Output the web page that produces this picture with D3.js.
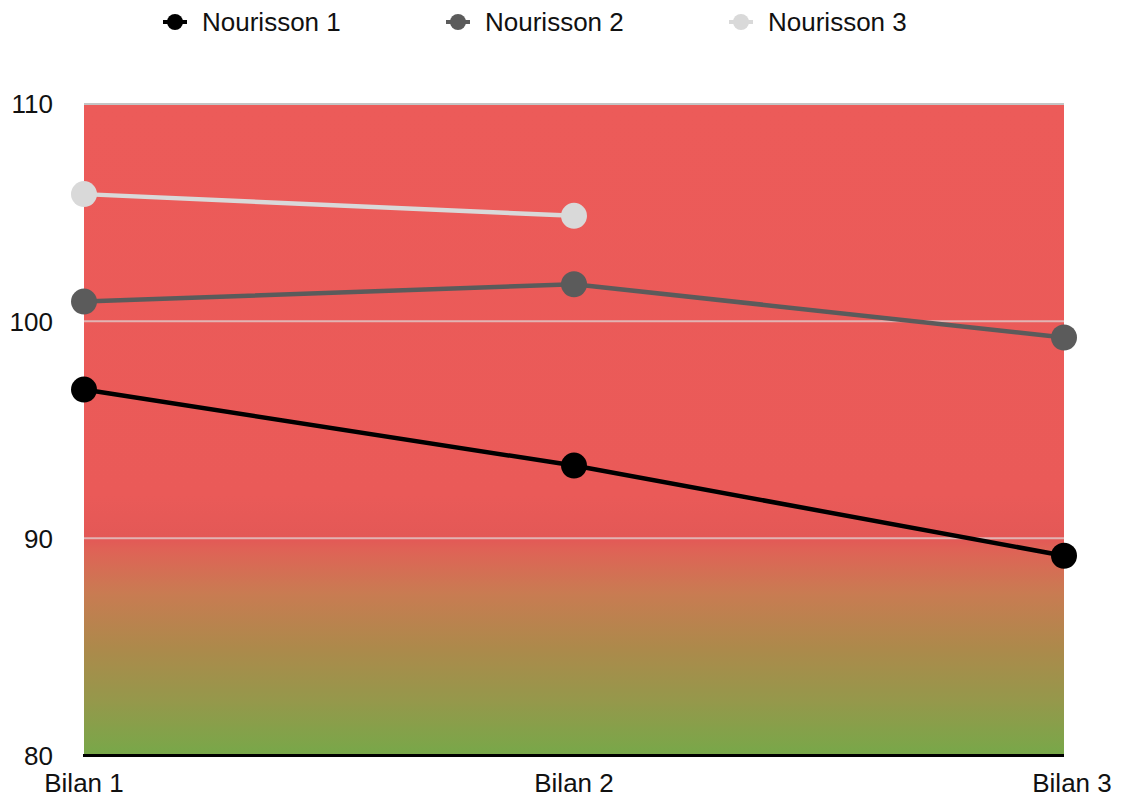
<!DOCTYPE html>
<html><head><meta charset="utf-8">
<script src="https://cdn.jsdelivr.net/npm/d3@7"></script>
<style>body{margin:0;background:#fff;} svg{display:block;font-family:"Liberation Sans",Arial,Helvetica,sans-serif;}</style>
</head><body>
<svg id="c" width="1122" height="800"></svg>
<script>
const categories = ["Bilan 1", "Bilan 2", "Bilan 3"];
const seriesNames = ["Nourisson 1", "Nourisson 2", "Nourisson 3"];
const nourisson1 = [96.85, 93.35, 89.2];
const nourisson2 = [100.9, 101.7, 99.25];
const nourisson3 = [105.85, 104.85, null];
const seriesColors = ["#000000", "#5b5b5b", "#d9d9d9"];
const yTicks = [80, 90, 100, 110];

const svg = d3.select("#c");
const x = d3.scalePoint().domain(categories).range([84, 1064]);
const y = d3.scaleLinear().domain([80, 110]).range([755.5, 104]);

// background gradient
const defs = svg.append("defs");
const grad = defs.append("linearGradient").attr("id", "bg")
  .attr("gradientUnits", "userSpaceOnUse")
  .attr("x1", 0).attr("x2", 0).attr("y1", y(110)).attr("y2", y(80));
const stops = [[110, "#ec5b59"], [92, "#ea5a58"], [90, "#e35856"], [89.5, "#df6256"], [87.5, "#c97b52"], [85, "#ad894b"], [82.5, "#95984b"], [80, "#77a849"]];
stops.forEach(s => grad.append("stop").attr("offset", (y(s[0]) - y(110)) / (y(80) - y(110))).attr("stop-color", s[1]));

svg.append("rect").attr("x", x("Bilan 1")).attr("y", y(110))
  .attr("width", x("Bilan 3") - x("Bilan 1")).attr("height", y(80) - y(110))
  .attr("fill", "url(#bg)");

// grid lines
svg.selectAll(".grid").data([90, 100, 110]).enter().append("line")
  .attr("x1", x("Bilan 1")).attr("x2", x("Bilan 3"))
  .attr("y1", d => y(d)).attr("y2", d => y(d))
  .attr("stroke", d => d === 110 ? "#c4c4c4" : "rgba(225,190,190,0.9)")
  .attr("stroke-width", 2);

// x axis line
svg.append("line").attr("x1", x("Bilan 1") - 1).attr("x2", x("Bilan 3"))
  .attr("y1", y(80)).attr("y2", y(80)).attr("stroke", "#000").attr("stroke-width", 3);

// y tick labels
svg.selectAll(".yt").data(yTicks).enter().append("text")
  .attr("x", 53).attr("y", d => y(d)).attr("dy", "0.36em")
  .attr("text-anchor", "end").attr("font-size", 26).attr("fill", "#111")
  .text(d => d);

// x labels
svg.selectAll(".xt").data(categories).enter().append("text")
  .attr("x", (d, i) => x(d) + (i === 2 ? 8 : 0)).attr("y", 792)
  .attr("text-anchor", "middle").attr("font-size", 26).attr("fill", "#111")
  .text(d => d);

// series
const allSeries = [nourisson1, nourisson2, nourisson3];
const line = d3.line().defined(d => d.v != null).x(d => x(d.c)).y(d => y(d.v));
allSeries.forEach((vals, i) => {
  const pts = vals.map((v, j) => ({c: categories[j], v}));
  svg.append("path").datum(pts).attr("d", line).attr("fill", "none")
    .attr("stroke", seriesColors[i]).attr("stroke-width", 4.5);
  svg.selectAll(".p" + i).data(pts.filter(p => p.v != null)).enter().append("circle")
    .attr("cx", d => x(d.c)).attr("cy", d => y(d.v)).attr("r", 13)
    .attr("fill", seriesColors[i]);
});

// legend
const legendX = [175, 458, 741];
seriesNames.forEach((n, i) => {
  const g = svg.append("g").attr("transform", `translate(${legendX[i]},22)`);
  g.append("line").attr("x1", -12).attr("x2", 12).attr("stroke", seriesColors[i]).attr("stroke-width", 4);
  g.append("circle").attr("r", 8).attr("fill", seriesColors[i]);
  g.append("text").attr("x", 27).attr("dy", "0.36em").attr("font-size", 26).attr("fill", "#111").text(n);
});
</script>
</body></html>
